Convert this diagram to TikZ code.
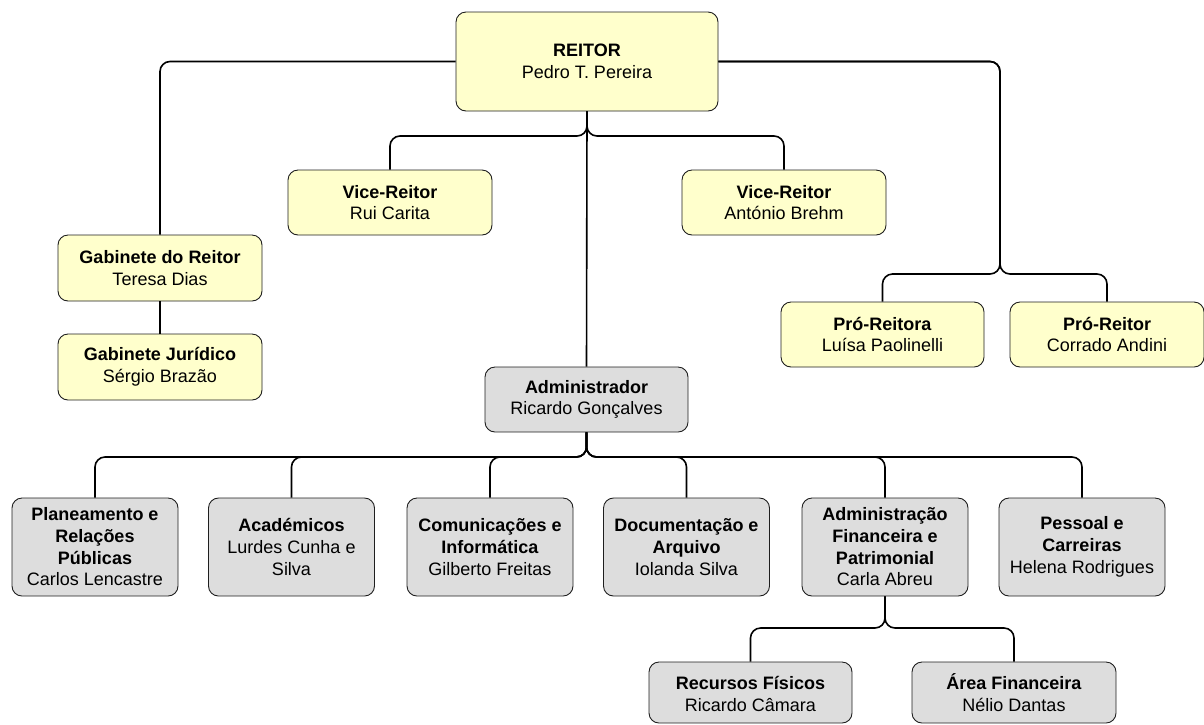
\documentclass[tikz,border=0pt]{standalone}
\usepackage{fontspec}
\setmainfont{Liberation Sans}
\usepackage{tikz}
\usetikzlibrary{positioning,calc}
\usepackage{xcolor}
\definecolor{board}{HTML}{FFFFCC}
\definecolor{services}{HTML}{DDDDDD}
\definecolor{ink}{HTML}{1E1E1E}
\tikzset{
  every node/.style={font=\fontsize{18}{21.7}\selectfont,text=black},
  box/.style={draw=ink,line width=0.9pt,rounded corners=10pt,fill=board,align=center,inner sep=0pt},
  topbox/.style={box,minimum width=204pt,minimum height=65pt},
  servbox/.style={box,fill=services,minimum width=166pt,minimum height=98pt},
  subbox/.style={box,fill=services,minimum width=203pt,minimum height=61pt},
  link/.style={draw=black,line width=1.6pt,rounded corners=10pt},
}

\begin{document}
\begin{tikzpicture}[x=1pt,y=-1pt]
\useasboundingbox (0,0) rectangle (1204,724);

% reitoria
\node[box,minimum width=262pt,minimum height=99pt] (reitor) at (587,61.5) {\textbf{REITOR}\\Pedro T. Pereira};
\node[topbox] (vice1) at (390,202.5) {\textbf{Vice-Reitor}\\Rui Carita};
\node[topbox] (vice2) at (784,202.5) {\textbf{Vice-Reitor}\\António Brehm};
\node[topbox,minimum height=66pt] (gabinete) at (160,268) {\textbf{Gabinete do Reitor}\\Teresa Dias};
\node[topbox,minimum height=66pt] (juridico) at (160,367) {\textbf{Gabinete Jurídico}\\Sérgio Brazão};
\node[topbox,minimum width=203pt] (pro1) at (882.5,334.5) {\textbf{Pró-Reitora}\\Luísa Paolinelli};
\node[topbox,minimum width=194pt] (pro2) at (1107,334.5) {\textbf{Pró-Reitor}\\Corrado Andini};

% servicos
\node[topbox,fill=services,minimum width=203pt] (admin) at (586.5,399.5) {\textbf{Administrador}\\Ricardo Gonçalves};
\node[servbox] (plan) at (95,547) {\textbf{Planeamento e}\\\textbf{Relações}\\\textbf{Públicas}\\Carlos Lencastre};
\node[servbox] (acad) at (291.5,547) {\textbf{Académicos}\\Lurdes Cunha e\\Silva};
\node[servbox] (comun) at (490,547) {\textbf{Comunicações e}\\\textbf{Informática}\\Gilberto Freitas};
\node[servbox] (docum) at (686.5,547) {\textbf{Documentação e}\\\textbf{Arquivo}\\Iolanda Silva};
\node[servbox] (finan) at (885,547) {\textbf{Administração}\\\textbf{Financeira e}\\\textbf{Patrimonial}\\Carla Abreu};
\node[servbox] (pessoal) at (1082,547) {\textbf{Pessoal e}\\\textbf{Carreiras}\\Helena Rodrigues};
\node[subbox] (recursos) at (750.5,692.5) {\textbf{\vphantom{Á}Recursos Físicos}\\Ricardo Câmara};
\node[subbox,minimum width=204pt] (area) at (1014,692.5) {\textbf{Área Financeira}\\Nélio Dantas};

% barramentos
\coordinate (vicebus) at (reitor.south |- 0,136);
\coordinate (probus) at (1000,274);
\coordinate (adminbus) at (admin.south |- 0,457);
\coordinate (finanbus) at (finan.south |- 0,628);

\draw[link] (reitor.west) -| (gabinete.north);
\draw[link] (gabinete) -- (juridico);
\draw[link] (reitor.east) -| (probus) -| (pro1.north);
\draw[link] (reitor.east) -| (probus) -| (pro2.north);
\draw[link] (reitor.south) -- (vicebus) -| (vice1.north);
\draw[link] (reitor.south) -- (vicebus) -| (vice2.north);
\draw[link] (reitor.south) -- (admin.north);
\foreach \unit in {plan,acad,comun,docum,finan,pessoal}
  \draw[link] (admin.south) -- (adminbus) -| (\unit.north);
\draw[link] (finan.south) -- (finanbus) -| (recursos.north);
\draw[link] (finan.south) -- (finanbus) -| (area.north);

\end{tikzpicture}
\end{document}
